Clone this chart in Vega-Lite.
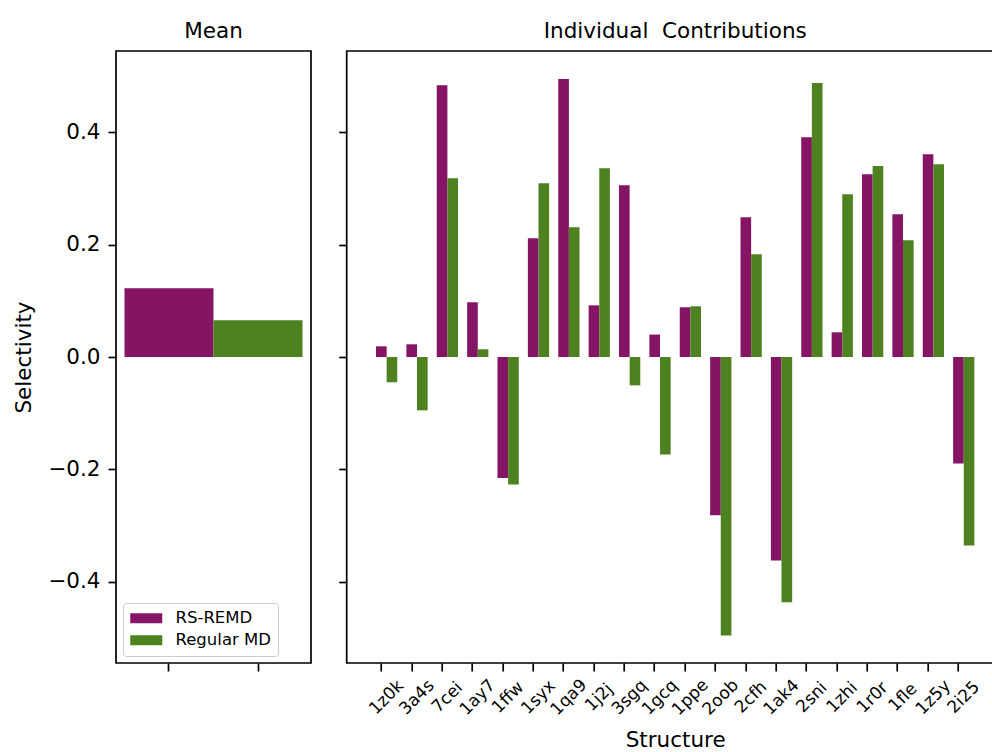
{
  "$schema": "https://vega.github.io/schema/vega-lite/v6.json",
  "background": "white",
  "padding": {"left": 12, "top": 19, "right": 0, "bottom": 0},
  "config": {
    "font": "DejaVu Sans",
    "view": {"stroke": "black", "strokeWidth": 1.7},
    "axis": {
      "domain": false,
      "grid": false,
      "tickColor": "black",
      "tickWidth": 1.7,
      "tickSize": 8,
      "labelColor": "black",
      "labelFont": "DejaVu Sans",
      "labelFontSize": 21.5,
      "labelPadding": 8,
      "titleFont": "DejaVu Sans",
      "titleFontSize": 21.5,
      "titleFontWeight": "normal",
      "titleColor": "black"
    },
    "title": {"font": "DejaVu Sans", "fontSize": 21.5, "fontWeight": "normal", "color": "black", "baseline": "alphabetic", "offset": 9}
  },
  "datasets": {
    "mean": [
      {"method": "RS-REMD", "selectivity": 0.1225},
      {"method": "Regular MD", "selectivity": 0.0654}
    ],
    "each": [
      {"structure": "1z0k", "method": "RS-REMD", "selectivity": 0.019},
      {"structure": "1z0k", "method": "Regular MD", "selectivity": -0.045},
      {"structure": "3a4s", "method": "RS-REMD", "selectivity": 0.0226},
      {"structure": "3a4s", "method": "Regular MD", "selectivity": -0.095},
      {"structure": "7cei", "method": "RS-REMD", "selectivity": 0.484},
      {"structure": "7cei", "method": "Regular MD", "selectivity": 0.3185},
      {"structure": "1ay7", "method": "RS-REMD", "selectivity": 0.0975},
      {"structure": "1ay7", "method": "Regular MD", "selectivity": 0.0137},
      {"structure": "1ffw", "method": "RS-REMD", "selectivity": -0.2157},
      {"structure": "1ffw", "method": "Regular MD", "selectivity": -0.227},
      {"structure": "1syx", "method": "RS-REMD", "selectivity": 0.2116},
      {"structure": "1syx", "method": "Regular MD", "selectivity": 0.3096},
      {"structure": "1qa9", "method": "RS-REMD", "selectivity": 0.495},
      {"structure": "1qa9", "method": "Regular MD", "selectivity": 0.231},
      {"structure": "1j2j", "method": "RS-REMD", "selectivity": 0.092},
      {"structure": "1j2j", "method": "Regular MD", "selectivity": 0.336},
      {"structure": "3sgq", "method": "RS-REMD", "selectivity": 0.306},
      {"structure": "3sgq", "method": "Regular MD", "selectivity": -0.0505},
      {"structure": "1gcq", "method": "RS-REMD", "selectivity": 0.040},
      {"structure": "1gcq", "method": "Regular MD", "selectivity": -0.1735},
      {"structure": "1ppe", "method": "RS-REMD", "selectivity": 0.0886},
      {"structure": "1ppe", "method": "Regular MD", "selectivity": 0.0903},
      {"structure": "2oob", "method": "RS-REMD", "selectivity": -0.282},
      {"structure": "2oob", "method": "Regular MD", "selectivity": -0.496},
      {"structure": "2cfh", "method": "RS-REMD", "selectivity": 0.249},
      {"structure": "2cfh", "method": "Regular MD", "selectivity": 0.183},
      {"structure": "1ak4", "method": "RS-REMD", "selectivity": -0.3624},
      {"structure": "1ak4", "method": "Regular MD", "selectivity": -0.437},
      {"structure": "2sni", "method": "RS-REMD", "selectivity": 0.3916},
      {"structure": "2sni", "method": "Regular MD", "selectivity": 0.488},
      {"structure": "1zhi", "method": "RS-REMD", "selectivity": 0.044},
      {"structure": "1zhi", "method": "Regular MD", "selectivity": 0.290},
      {"structure": "1r0r", "method": "RS-REMD", "selectivity": 0.3257},
      {"structure": "1r0r", "method": "Regular MD", "selectivity": 0.340},
      {"structure": "1fle", "method": "RS-REMD", "selectivity": 0.2544},
      {"structure": "1fle", "method": "Regular MD", "selectivity": 0.208},
      {"structure": "1z5y", "method": "RS-REMD", "selectivity": 0.3613},
      {"structure": "1z5y", "method": "Regular MD", "selectivity": 0.3435},
      {"structure": "2i25", "method": "RS-REMD", "selectivity": -0.1895},
      {"structure": "2i25", "method": "Regular MD", "selectivity": -0.3357}
    ]
  },
  "spacing": 24.7,
  "resolve": {
    "scale": {"x": "independent", "y": "independent", "color": "independent"},
    "legend": {"color": "independent"}
  },
  "hconcat": [
    {
      "width": 195,
      "height": 612,
      "title": "Mean",
      "data": {"name": "mean"},
      "mark": {"type": "bar"},
      "encoding": {
        "x": {
          "field": "method",
          "type": "nominal",
          "scale": {"domain": ["RS-REMD", "Regular MD"], "paddingInner": 0, "paddingOuter": 0.0955},
          "axis": {"labels": false, "title": null}
        },
        "y": {
          "field": "selectivity",
          "type": "quantitative",
          "scale": {"domain": [-0.545, 0.545], "nice": false, "zero": false},
          "axis": {"values": [-0.4, -0.2, 0, 0.2, 0.4], "format": ".1f", "title": "Selectivity", "titlePadding": 12}
        },
        "color": {
          "field": "method",
          "type": "nominal",
          "scale": {"domain": ["RS-REMD", "Regular MD"], "range": ["#861464", "#4E8221"]},
          "legend": {
            "title": null,
            "orient": "bottom-left",
            "offset": 7,
            "padding": 7,
            "fillColor": "white",
            "strokeColor": "#cccccc",
            "cornerRadius": 3,
            "symbolType": "M-2,-0.625H2V0.625H-2Z",
            "symbolSize": 256,
            "symbolStrokeWidth": 0,
            "symbolOpacity": 1,
            "symbolOffset": 8,
            "labelFont": "DejaVu Sans",
            "labelFontSize": 16.5,
            "labelColor": "black",
            "labelOffset": 21,
            "rowPadding": 5
          }
        }
      }
    },
    {
      "width": 657,
      "height": 612,
      "title": "Individual\u00a0 Contributions",
      "data": {"name": "each"},
      "mark": {"type": "bar"},
      "encoding": {
        "x": {
          "field": "structure",
          "type": "nominal",
          "scale": {
            "domain": ["1z0k", "3a4s", "7cei", "1ay7", "1ffw", "1syx", "1qa9", "1j2j", "3sgq", "1gcq", "1ppe", "2oob", "2cfh", "1ak4", "2sni", "1zhi", "1r0r", "1fle", "1z5y", "2i25"],
            "paddingInner": 0.3,
            "paddingOuter": 0.965
          },
          "axis": {
            "title": "Structure",
            "titlePadding": 12,
            "labelAngle": -45,
            "labelAlign": "center",
            "labelBaseline": "middle",
            "labelPadding": 26,
            "labelFontSize": 17,
            "bandPosition": 0.25
          }
        },
        "xOffset": {
          "field": "method",
          "type": "nominal",
          "scale": {"domain": ["RS-REMD", "Regular MD"], "paddingInner": 0, "paddingOuter": 0}
        },
        "y": {
          "field": "selectivity",
          "type": "quantitative",
          "scale": {"domain": [-0.545, 0.545], "nice": false, "zero": false},
          "axis": {"values": [-0.4, -0.2, 0, 0.2, 0.4], "labels": false, "title": null}
        },
        "color": {
          "field": "method",
          "type": "nominal",
          "scale": {"domain": ["RS-REMD", "Regular MD"], "range": ["#861464", "#4E8221"]},
          "legend": null
        }
      }
    }
  ]
}
